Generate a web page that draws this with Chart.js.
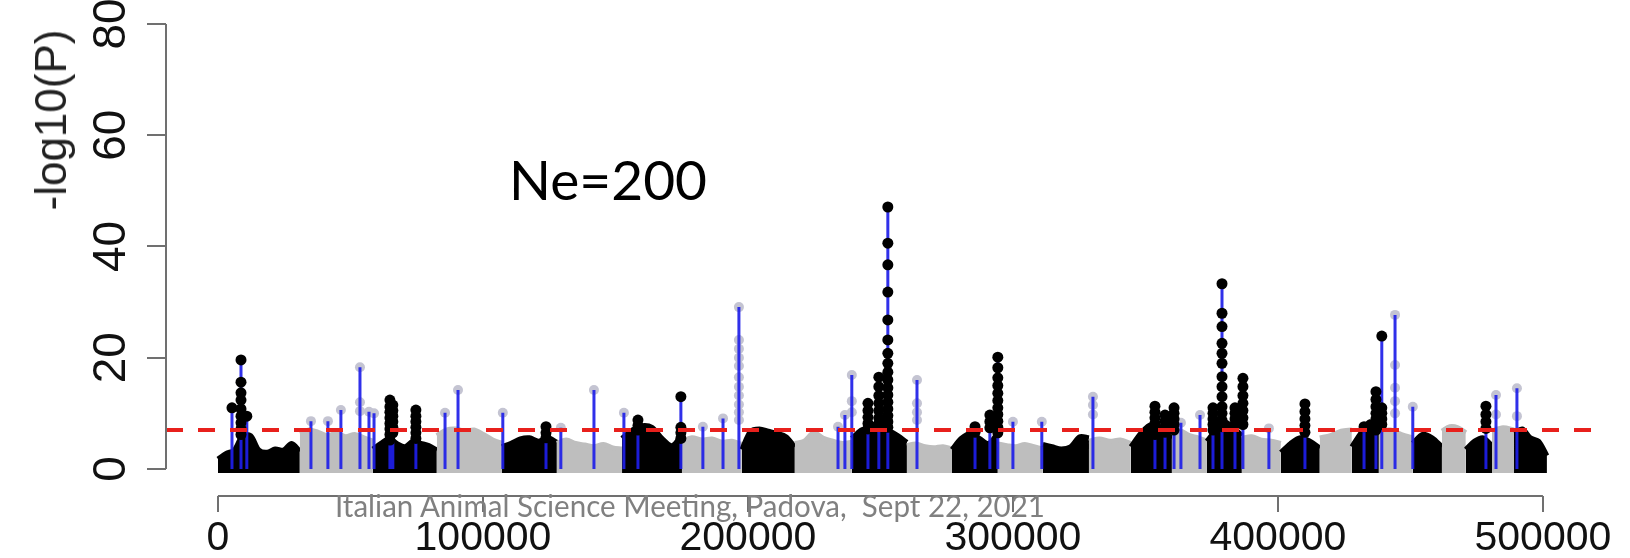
<!DOCTYPE html>
<html>
<head>
<meta charset="utf-8">
<title>Ne=200 Manhattan plot</title>
<script src="https://cdn.jsdelivr.net/npm/chart.js@4.4.1/dist/chart.umd.min.js"></script>
<style>
  html, body { margin: 0; padding: 0; background: #fff; }
  #wrap { position: relative; width: 1630px; height: 558px; overflow: hidden; }
  #chart { position: absolute; left: 0; top: 0; }
  .note { position: absolute; white-space: pre; line-height: 1; transform-origin: 0 0; }
  #ne { left: 509px; top: 153px; font-family: Lato, sans-serif; font-size: 54px; color: #000; }
  #footer { left: 335px; top: 490px; font-family: Lato, sans-serif; font-size: 30px; color: #808080; }
  #ytitle { position: absolute; left: 51px; top: 120px; white-space: pre; line-height: 1;
            font-family: 'Liberation Sans', Arial, sans-serif; font-size: 44px; color: #222;
            transform: translate(-50%, -50%) rotate(-90deg); }
</style>
</head>
<body>
<div id="wrap">
  <canvas id="chart" width="1630" height="558"></canvas>
  <div id="ytitle">-log10(P)</div>
  <div id="ne" class="note">Ne=200</div>
  <div id="footer" class="note">Italian Animal Science Meeting, Padova,  Sept 22, 2021</div>
</div>
<script>
// axis ticks
const xTicks = [0, 100000, 200000, 300000, 400000, 500000];
const yTicks = [0, 20, 40, 60, 80];
const threshold = 7;

// chromosome starts (SNP index), last SNP index
const chromStart = [0, 30900, 58500, 82600, 107200, 127900, 152500, 175100, 197700, 217700,
    239200, 260000, 277000, 294300, 311300, 328700, 344500, 360000, 373200, 386400,
    401100, 415800, 427900, 438100, 450900, 461900, 470900, 480800, 489100];
const genomeEnd = 501500;

// -log10(P) envelope of the bulk of the points, read along each chromosome
const envelope = [
    [1.8, 2.8, 3.4, 6.0, 6.0, 3.4, 3.0, 3.6, 3.4, 4.6, 3.2],
    [6.4, 7.0, 6.6, 6.0, 6.4, 5.8, 6.2, 5.6, 5.0],
    [3.6, 4.6, 5.5, 4.6, 4.0, 5.0, 4.6, 4.2, 3.4],
    [6.0, 7.0, 7.2, 6.8, 7.0, 6.2, 5.2, 4.6],
    [4.0, 4.6, 5.4, 5.6, 5.0, 5.6, 4.8],
    [4.6, 5.2, 4.6, 4.3, 4.0, 4.4, 3.8, 3.6],
    [5.5, 7.0, 7.8, 7.5, 5.5, 4.2, 6.2],
    [5.0, 5.6, 5.2, 5.4, 4.8, 5.0, 4.4],
    [3.5, 6.8, 7.2, 6.8, 6.4, 5.8, 4.0],
    [4.6, 5.0, 6.5, 5.5, 5.0, 4.6, 4.8],
    [5.5, 7.0, 7.5, 8.5, 7.0, 6.0, 4.8],
    [4.2, 4.5, 4.0, 3.8, 4.0, 3.6],
    [3.5, 5.5, 6.4, 5.5, 4.6, 6.5],
    [4.5, 4.2, 4.0, 4.4, 4.0, 3.6],
    [4.4, 4.0, 3.6, 4.0, 5.8, 5.6],
    [5.0, 5.4, 5.0, 5.2, 4.6],
    [4.0, 6.5, 8.0, 7.0, 5.5],
    [6.5, 6.8, 6.0, 5.6, 5.0],
    [5.0, 7.0, 8.5, 7.5, 6.0],
    [5.5, 5.8, 5.2, 5.0, 4.6],
    [3.0, 4.6, 5.6, 5.0, 3.8],
    [5.6, 6.0, 6.8, 7.0],
    [4.0, 6.5, 8.5, 7.0],
    [6.8, 7.0, 6.2, 5.6],
    [4.6, 6.2, 5.6, 4.0],
    [6.8, 7.6, 7.4, 6.5],
    [3.5, 5.0, 5.6, 4.2],
    [6.8, 7.4, 7.0],
    [6.5, 7.2, 5.6, 5.0, 2.4]
];

// QTL positions (blue lines): position, -log10(P) of the top SNP, colour of that SNP
const stemPos = [5300, 8700, 10900, 35100, 41500, 46400, 53600, 57000, 58900, 64900,
    66000, 74700, 85700, 90600, 107500, 123800, 129400, 141900, 153200, 158500,
    174700, 183000, 190600, 196600, 234000, 236600, 239200, 245300, 249400, 252800,
    263800, 285700, 291300, 294300, 300000, 310900, 330200, 353600, 357400, 360800,
    363400, 370600, 375500, 378900, 383800, 386800, 396600, 410200, 432500, 437000,
    439200, 444200, 450900, 478500, 482300, 490200];
const stemTop = [11.0, 19.6, 9.5, 8.6, 8.6, 10.6, 18.3, 10.3, 10.0, 12.4,
    11.5, 10.6, 10.1, 14.2, 10.1, 7.6, 7.4, 14.2, 10.1, 8.8,
    13.0, 7.6, 9.1, 29.1, 7.6, 9.7, 16.9, 11.8, 16.5, 47.1,
    16.0, 7.6, 9.7, 20.1, 8.5, 8.5, 13.0, 11.3, 9.7, 11.0,
    8.3, 9.7, 11.0, 33.3, 11.0, 16.3, 7.3, 11.7, 7.6, 13.9,
    23.9, 27.7, 11.2, 11.3, 13.3, 14.5];
const stemDot = ['k', 'k', 'k', 'g', 'g', 'g', 'g', 'g', 'g', 'k',
    'k', 'k', 'g', 'g', 'g', 'k', 'g', 'g', 'g', 'k',
    'k', 'g', 'g', 'g', 'g', 'g', 'g', 'k', 'k', 'k',
    'g', 'k', 'k', 'k', 'g', 'g', 'g', 'k', 'k', 'k',
    'g', 'g', 'k', 'k', 'k', 'k', 'g', 'k', 'k', 'k',
    'k', 'g', 'g', 'k', 'g', 'g'];

// other significant SNPs stacked below the peaks
const blackStacks = [
    [8700, [15.6, 13.7, 12.4, 10.8, 9.5, 8.3, 7.2, 6.2]],
    [64900, [11.2, 10.2, 9.2, 8.2, 7.2, 6.2, 5.2]],
    [66000, [10.5, 9.5, 8.5, 7.5, 6.5]],
    [74700, [9.5, 8.5, 7.5, 6.5, 5.5]],
    [123800, [6.5, 5.6]],
    [158500, [7.8, 7.0]],
    [174700, [7.5, 6.5, 5.5]],
    [245300, [10.5, 9.3, 8.2, 7.2]],
    [249400, [14.8, 13.2, 11.8, 10.5, 9.2, 8.2]],
    [252800, [40.6, 36.7, 31.8, 26.8, 23.2, 20.8, 19.0, 17.4, 16.0, 14.6, 13.3, 12.0, 10.8, 9.6, 8.5, 7.5]],
    [285700, [6.6]],
    [291300, [8.5, 7.4]],
    [294300, [18.2, 16.4, 15.0, 13.6, 12.3, 11.0, 9.8, 8.6, 7.5, 6.5]],
    [353600, [10.2, 9.2, 8.2, 7.2, 6.2]],
    [357400, [8.6, 7.6, 6.6]],
    [360800, [10.0, 9.0, 8.0, 7.0]],
    [375500, [10.0, 9.0, 8.0, 7.0]],
    [378900, [28.0, 25.6, 22.6, 20.8, 19.0, 16.6, 14.8, 13.0, 11.2, 10.0, 8.8, 7.6]],
    [383800, [10.0, 9.0, 8.0]],
    [386800, [14.8, 13.2, 11.8, 10.5, 9.2, 8.0]],
    [410200, [10.3, 9.0, 7.8, 6.6]],
    [437000, [12.5, 11.2, 10.0, 9.0, 8.0, 7.0]],
    [439200, [11.0, 10.0, 9.0, 8.0]],
    [478500, [9.8, 8.5, 7.3]]
];
const grayStacks = [
    [53600, [12.0, 10.4]],
    [196600, [23.2, 21.6, 20.0, 18.5, 16.5, 14.8, 13.2, 11.6, 10.2, 8.8]],
    [239200, [12.2, 10.2]],
    [263800, [11.8, 10.2, 8.8]],
    [330200, [11.5, 9.8]],
    [444200, [18.7, 14.6, 12.2, 10.0]],
    [482300, [9.8]],
    [490200, [9.5]]
];

const axisColor = '#707070';
const xMin = -19600, xMax = 522300;
const yMin = -4.854, yMax = 84.31;

Chart.defaults.font.family = "'Liberation Sans', Arial, Helvetica, sans-serif";

const datasets = [];

// genome-wide threshold
datasets.push({
    data: [{x: xMin, y: threshold}, {x: xMax, y: threshold}],
    borderColor: '#e8201c',
    borderWidth: 4,
    borderDash: [17, 15],
    pointRadius: 0,
    order: 0
});

// black SNPs on top of the blue lines
const blackDots = [];
stemPos.forEach((p, i) => { if (stemDot[i] === 'k') blackDots.push({x: p, y: stemTop[i]}); });
blackStacks.forEach(s => s[1].forEach(v => blackDots.push({x: s[0], y: v})));
datasets.push({
    data: blackDots,
    showLine: false,
    pointRadius: 5.5,
    pointBorderWidth: 0,
    pointBackgroundColor: '#000',
    order: 1
});

// blue QTL lines
const stemData = [];
stemPos.forEach((p, i) => {
    stemData.push({x: p, y: 0}, {x: p, y: stemTop[i]}, {x: p, y: null});
});
datasets.push({
    data: stemData,
    borderColor: 'rgba(30,30,232,0.92)',
    borderWidth: 3,
    pointRadius: 0,
    spanGaps: false,
    order: 2
});

// gray SNPs under the blue lines
const grayDots = [];
stemPos.forEach((p, i) => { if (stemDot[i] === 'g') grayDots.push({x: p, y: stemTop[i]}); });
grayStacks.forEach(s => s[1].forEach(v => grayDots.push({x: s[0], y: v})));
datasets.push({
    data: grayDots,
    showLine: false,
    pointRadius: 5,
    pointBorderWidth: 0,
    pointBackgroundColor: '#c4c4d2',
    order: 3
});

// bulk of the SNPs, chromosome by chromosome
chromStart.forEach((s, c) => {
    const e = c < chromStart.length - 1 ? chromStart[c + 1] : genomeEnd;
    const env = envelope[c];
    const col = c % 2 === 0 ? '#000000' : '#bebebe';
    datasets.push({
        data: env.map((h, i) => ({x: s + (e - s) * i / (env.length - 1), y: h})),
        borderColor: col,
        backgroundColor: col,
        borderWidth: 5,
        borderJoinStyle: 'round',
        fill: {value: -0.7},
        pointRadius: 0,
        tension: 0.3,
        order: 100 - c
    });
});

// R-style axis lines, from first to last tick
const rAxisLines = {
    id: 'rAxisLines',
    afterDraw(chart) {
        const {ctx} = chart;
        const x = chart.scales.x, y = chart.scales.y;
        ctx.save();
        ctx.strokeStyle = axisColor;
        ctx.lineWidth = 2;
        ctx.beginPath();
        ctx.moveTo(x.getPixelForValue(xTicks[0]), x.top);
        ctx.lineTo(x.getPixelForValue(xTicks[xTicks.length - 1]), x.top);
        ctx.moveTo(y.right, y.getPixelForValue(yTicks[0]));
        ctx.lineTo(y.right, y.getPixelForValue(yTicks[yTicks.length - 1]));
        ctx.stroke();
        ctx.restore();
    }
};

new Chart(document.getElementById('chart'), {
    type: 'line',
    data: { datasets: datasets },
    options: {
        responsive: false,
        animation: false,
        events: [],
        layout: { autoPadding: false, padding: { left: 0, top: 0, right: 28, bottom: 0 } },
        plugins: { legend: { display: false }, tooltip: { enabled: false } },
        scales: {
            x: {
                type: 'linear',
                min: xMin,
                max: xMax,
                border: { display: false },
                grid: { drawOnChartArea: false, drawTicks: true, tickLength: 16, color: axisColor, lineWidth: 2 },
                ticks: {
                    font: { size: 41 },
                    color: '#111',
                    padding: 2,
                    maxRotation: 0,
                    autoSkip: false,
                    callback: v => String(v)
                },
                afterBuildTicks: s => { s.ticks = xTicks.map(v => ({value: v})); },
                afterFit: s => { s.height = 62; s.paddingLeft = 0; s.paddingRight = 0; }
            },
            y: {
                type: 'linear',
                min: yMin,
                max: yMax,
                border: { display: false },
                grid: { drawOnChartArea: false, drawTicks: true, tickLength: 19, color: axisColor, lineWidth: 2 },
                ticks: {
                    font: { size: 46 },
                    color: '#111',
                    padding: 9,
                    minRotation: 90,
                    maxRotation: 90,
                    crossAlign: 'center',
                    autoSkip: false,
                    callback: v => String(v)
                },
                afterBuildTicks: s => { s.ticks = yTicks.map(v => ({value: v})); },
                afterFit: s => { s.width = 166; s.paddingTop = 0; s.paddingBottom = 0; }
            }
        }
    },
    plugins: [rAxisLines]
});

// squeeze the slide texts to the widths they have in the picture
function fitWidth(id, target) {
    const el = document.getElementById(id);
    const w = el.getBoundingClientRect().width;
    if (w > 0) el.style.transform = 'scaleX(' + (target / w) + ')';
}
document.fonts.ready.then(() => {
    fitWidth('ne', 198);
    fitWidth('footer', 710);
});
</script>
</body>
</html>
